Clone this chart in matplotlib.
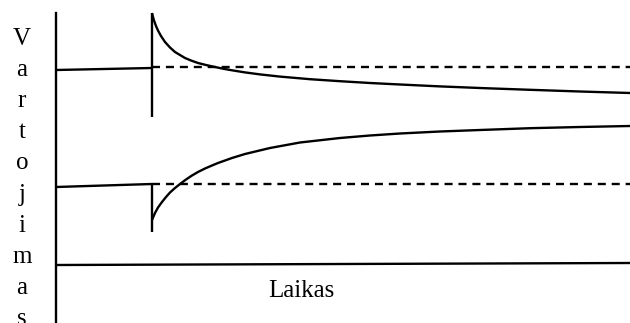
import numpy as np
import matplotlib
matplotlib.use("Agg")
import matplotlib.pyplot as plt

plt.rcParams['font.family'] = ['Liberation Serif', 'DejaVu Serif']

# schematic: consumption over time (pixel-like units, y up)
label_letters = ['V', 'a', 'r', 't', 'o', 'j', 'i', 'm', 'a', 's']
x_label = 'Laikas'

# top series: before the change, step and the curve that falls back
top_before_x = [56, 152]
top_before_y = [253, 255]
top_level = 256
top_curve_x = [152, 153, 154, 156, 158, 161, 165, 170, 175, 180, 185, 191, 198, 206, 215,
               223, 232, 245, 260, 280, 310, 340, 370, 400, 440, 485, 530, 580, 630]
top_curve_y = [310, 306, 302.5, 297, 292.5, 287, 281, 275.5, 271, 268, 265, 262.5, 260, 258, 256,
               254.3, 252.7, 250.6, 248.6, 246.4, 243.8, 241.8, 240, 238.5, 236.6, 234.8, 233.2,
               231.5, 230]
top_jump = [206, 310]

# middle series
mid_before_x = [56, 152]
mid_before_y = [136, 139]
mid_level = 139
mid_curve_x = [152, 155, 158, 162, 166, 170, 175, 180, 186, 192, 198, 205, 212, 218,
               225, 232, 245, 270, 300, 340, 370, 400, 440, 480, 530, 580, 630]
mid_curve_y = [103, 110, 115.5, 121, 126, 130.5, 135, 139, 143.5, 147.5, 151, 154.5, 157.5, 160,
               162.5, 165, 169, 175, 180.5, 185, 187.5, 189.5, 191.5, 193, 194.8, 196, 197]
mid_jump = [91, 139]

# bottom series
bot_x = [56, 630]
bot_y = [58, 60]

fig = plt.figure(figsize=(6.3, 3.23), dpi=100)
ax = fig.add_axes([0, 0, 1, 1])
ax.set_xlim(0, 630)
ax.set_ylim(0, 323)
for s in ['top', 'right', 'bottom']:
    ax.spines[s].set_visible(False)
ax.spines['left'].set_position(('data', 55.5))
ax.spines['left'].set_bounds(0, 310)
ax.spines['left'].set_linewidth(1.7)
ax.set_xticks([])
ax.set_yticks([])
ax.patch.set_alpha(0)

lw = 1.7
dash = (0, (3.4, 2.5))
k = dict(color='black', lw=lw, solid_capstyle='butt', solid_joinstyle='round')

ax.plot(top_before_x, top_before_y, **k)
ax.plot([top_before_x[-1], 630], [top_level, top_level], ls=dash, color='black', lw=lw)
ax.plot([top_curve_x[0], top_curve_x[0]], top_jump, **k)
ax.plot(top_curve_x, top_curve_y, **k)

ax.plot(mid_before_x, mid_before_y, **k)
ax.plot([mid_before_x[-1], 630], [mid_level, mid_level], ls=dash, color='black', lw=lw)
ax.plot([mid_curve_x[0], mid_curve_x[0]], mid_jump, **k)
ax.plot(mid_curve_x, mid_curve_y, **k)

ax.plot(bot_x, bot_y, **k)

fs = 18
for i, ch in enumerate(label_letters):
    ax.text(22, 323 - (45 + 31.1 * i), ch, ha='center', va='baseline', fontsize=fs)
ax.text(268, 323 - 297, x_label, ha='left', va='baseline', fontsize=fs)

fig.savefig('out.png', dpi=100)
